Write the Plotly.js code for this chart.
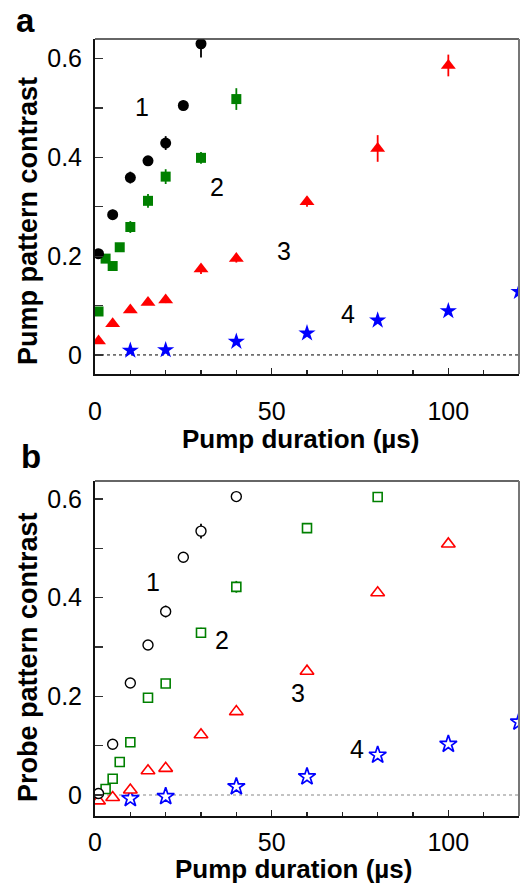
<!DOCTYPE html>
<html>
<head>
<meta charset="utf-8">
<script src="https://cdn.plot.ly/plotly-3.0.1.min.js"></script>
<style>html,body{margin:0;padding:0;background:#fff;}#chart{width:528px;height:883px;}</style>
</head>
<body>
<div id="chart"></div>
<script>
// Panel a: pump pattern contrast
const pumpX1 = [1, 5, 10, 15, 20, 25, 30];
const pumpY1 = [0.205, 0.284, 0.359, 0.393, 0.429, 0.505, 0.630];
const pumpE1 = [0.006, 0.010, 0.012, 0.008, 0.014, 0.010, 0.028];

const pumpX2 = [1, 3, 5, 7, 10, 15, 20, 30, 40];
const pumpY2 = [0.088, 0.195, 0.180, 0.218, 0.259, 0.312, 0.361, 0.399, 0.518];
const pumpE2 = [0.005, 0.005, 0.005, 0.006, 0.012, 0.014, 0.015, 0.012, 0.022];

const pumpX3 = [1, 5, 10, 15, 20, 30, 40, 60, 80, 100];
const pumpY3 = [0.028, 0.063, 0.091, 0.106, 0.111, 0.174, 0.195, 0.310, 0.418, 0.586];
const pumpE3 = [0.004, 0.004, 0.005, 0.005, 0.006, 0.010, 0.008, 0.010, 0.027, 0.022];

const pumpX4 = [10, 20, 40, 60, 80, 100, 120];
const pumpY4 = [0.009, 0.010, 0.027, 0.044, 0.070, 0.089, 0.128];

// Panel b: probe pattern contrast
const probeX1 = [1, 5, 10, 15, 20, 25, 30, 40];
const probeY1 = [0.003, 0.103, 0.227, 0.304, 0.372, 0.482, 0.535, 0.605];
const probeE1 = [0.003, 0.005, 0.005, 0.006, 0.012, 0.010, 0.015, 0.005];

const probeX2 = [3, 5, 7, 10, 15, 20, 30, 40, 60, 80];
const probeY2 = [0.012, 0.033, 0.067, 0.107, 0.197, 0.226, 0.329, 0.422, 0.541, 0.604];
const probeE2 = [0.003, 0.004, 0.004, 0.005, 0.005, 0.008, 0.010, 0.012, 0.006, 0.006];

const probeX3 = [1, 5, 10, 15, 20, 30, 40, 60, 80, 100];
const probeY3 = [-0.012, -0.005, 0.010, 0.049, 0.054, 0.122, 0.169, 0.251, 0.410, 0.509];

const probeX4 = [10, 20, 40, 60, 80, 100, 120];
const probeY4 = [-0.007, -0.003, 0.017, 0.037, 0.081, 0.103, 0.148];

const curveLabels = ['1', '2', '3', '4'];
const panelLabels = ['a', 'b'];
const xTitle = 'Pump duration (µs)';
const yTitles = ['Pump pattern contrast', 'Probe pattern contrast'];
const xTickVals = [0, 50, 100];
const yTickVals = [0, 0.2, 0.4, 0.6];
const yTickText = ['0', '0.2', '0.4', '0.6'];

const FONT = '"Liberation Sans", Arial, Helvetica, sans-serif';
const BLACK = '#000000', GREEN = '#008000', RED = '#ff0000', BLUE = '#0000ff';

function tr(x, y, e, color, symbol, size, xa, ya, open, lw) {
  const t = {
    x: x, y: y, type: 'scatter', mode: 'markers', xaxis: xa, yaxis: ya,
    marker: {color: open ? '#ffffff' : color, symbol: symbol, size: size, line: {color: color, width: open ? lw : 0}},
    showlegend: false, cliponaxis: true
  };
  if (e) t.error_y = {type: 'data', array: e, visible: true, color: color, thickness: 1.8, width: 0};
  return t;
}

const data = [
  tr(pumpX4, pumpY4, null, BLUE, 'star', 13, 'x', 'y'),
  tr(pumpX3, pumpY3, pumpE3, RED, 'triangle-up', 13, 'x', 'y'),
  tr(pumpX2, pumpY2, pumpE2, GREEN, 'square', 10, 'x', 'y'),
  tr(pumpX1, pumpY1, pumpE1, BLACK, 'circle', 11, 'x', 'y'),
  tr(probeX4, probeY4, null, BLUE, 'star', 13, 'x2', 'y2', true, 1.7),
  tr(probeX3, probeY3, null, RED, 'triangle-up', 12, 'x2', 'y2', true, 1.6),
  tr(probeX2, probeY2, probeE2, GREEN, 'square', 9, 'x2', 'y2', true, 1.6),
  tr(probeX1, probeY1, probeE1, BLACK, 'circle', 10, 'x2', 'y2', true, 1.4)
];

function xax(anchor, standoff) {
  return {
    anchor: anchor, range: [0, 120], domain: [0, 1],
    tickmode: 'array', tickvals: xTickVals, ticktext: xTickVals.map(String),
    ticks: 'inside', ticklen: 6, tickwidth: 1.2, tickcolor: '#222',
    minor: {dtick: 10, tick0: 0, ticks: 'inside', ticklen: 4, tickwidth: 1.2, tickcolor: '#222'},
    showline: true, linecolor: '#111', linewidth: 2,
    showgrid: false, zeroline: false,
    tickfont: {family: FONT, size: 25, color: '#000'},
    ticklabelstandoff: standoff,
    automargin: false, fixedrange: true
  };
}
function yax(anchor, domain, range) {
  return {
    anchor: anchor, domain: domain, range: range,
    tickmode: 'array', tickvals: yTickVals, ticktext: yTickText,
    ticks: 'inside', ticklen: 8, tickwidth: 1.2, tickcolor: '#333',
    minor: {dtick: 0.1, tick0: 0, ticks: 'inside', ticklen: 8, tickwidth: 1.2, tickcolor: '#333'},
    showline: true, linecolor: '#111', linewidth: 2,
    showgrid: false, zeroline: false,
    tickfont: {family: FONT, size: 25, color: '#000'},
    ticklabelstandoff: 6,
    automargin: false, fixedrange: true
  };
}

const lblFont = {family: FONT, size: 25, color: '#000'};
function lab(txt, x, y, xr, yr) {
  return {text: txt, x: x, y: y, xref: xr, yref: yr, showarrow: false, font: lblFont, xanchor: 'center', yanchor: 'middle'};
}
function ptxt(txt, x, y, size, angle) {
  return {text: txt, x: x, y: y, xref: 'paper', yref: 'paper', showarrow: false,
    font: {family: FONT, size: size, color: '#000', weight: 'bold'},
    textangle: angle || 0, xanchor: 'center', yanchor: 'middle'};
}

const layout = {
  width: 528, height: 883,
  margin: {l: 95, r: 9, t: 39, b: 67},
  paper_bgcolor: '#fff', plot_bgcolor: '#fff',
  font: {family: FONT},
  xaxis: xax('y', 14),
  yaxis: yax('x', [0.5689, 1], [-0.0385, 0.6396]),
  xaxis2: xax('y2', 3),
  yaxis2: yax('x2', [0, 0.4311], [-0.0426, 0.6365]),
  shapes: [
    {type: 'line', xref: 'x domain', yref: 'y', x0: 0, x1: 1, y0: 0, y1: 0, line: {color: '#000', width: 1, dash: 'dot'}, layer: 'below'},
    {type: 'line', xref: 'x2 domain', yref: 'y2', x0: 0, x1: 1, y0: 0, y1: 0, line: {color: '#888', width: 1.2, dash: 'dot'}, layer: 'below'},
    {type: 'line', xref: 'x domain', yref: 'y domain', x0: 0, x1: 1, y0: 1, y1: 1, line: {color: '#333', width: 1.5}},
    {type: 'line', xref: 'x domain', yref: 'y domain', x0: 1, x1: 1, y0: 0, y1: 1, line: {color: '#777', width: 2}},
    {type: 'line', xref: 'x2 domain', yref: 'y2 domain', x0: 0, x1: 1, y0: 1, y1: 1, line: {color: '#333', width: 1.5}},
    {type: 'line', xref: 'x2 domain', yref: 'y2 domain', x0: 1, x1: 1, y0: 0, y1: 1, line: {color: '#777', width: 2}}
  ],
  annotations: [
    ptxt(panelLabels[0], -0.1639, 1.0235, 33),
    ptxt(panelLabels[1], -0.151, 0.4633, 33),
    ptxt(xTitle, 0.4858, 0.4852, 26),
    ptxt(xTitle, 0.4670, -0.0682, 26),
    ptxt(yTitles[0], -0.1580, 0.7658, 27, -90),
    ptxt(yTitles[1], -0.1580, 0.2046, 27, -90),
    lab(curveLabels[0], 13.3, 0.501, 'x', 'y'),
    lab(curveLabels[1], 34.5, 0.339, 'x', 'y'),
    lab(curveLabels[2], 53.5, 0.211, 'x', 'y'),
    lab(curveLabels[3], 71.6, 0.083, 'x', 'y'),
    lab(curveLabels[0], 16.4, 0.432, 'x2', 'y2'),
    lab(curveLabels[1], 35.9, 0.314, 'x2', 'y2'),
    lab(curveLabels[2], 57.5, 0.207, 'x2', 'y2'),
    lab(curveLabels[3], 74.2, 0.093, 'x2', 'y2')
  ]
};

Plotly.newPlot('chart', data, layout, {staticPlot: true, displayModeBar: false});
</script>
</body>
</html>
